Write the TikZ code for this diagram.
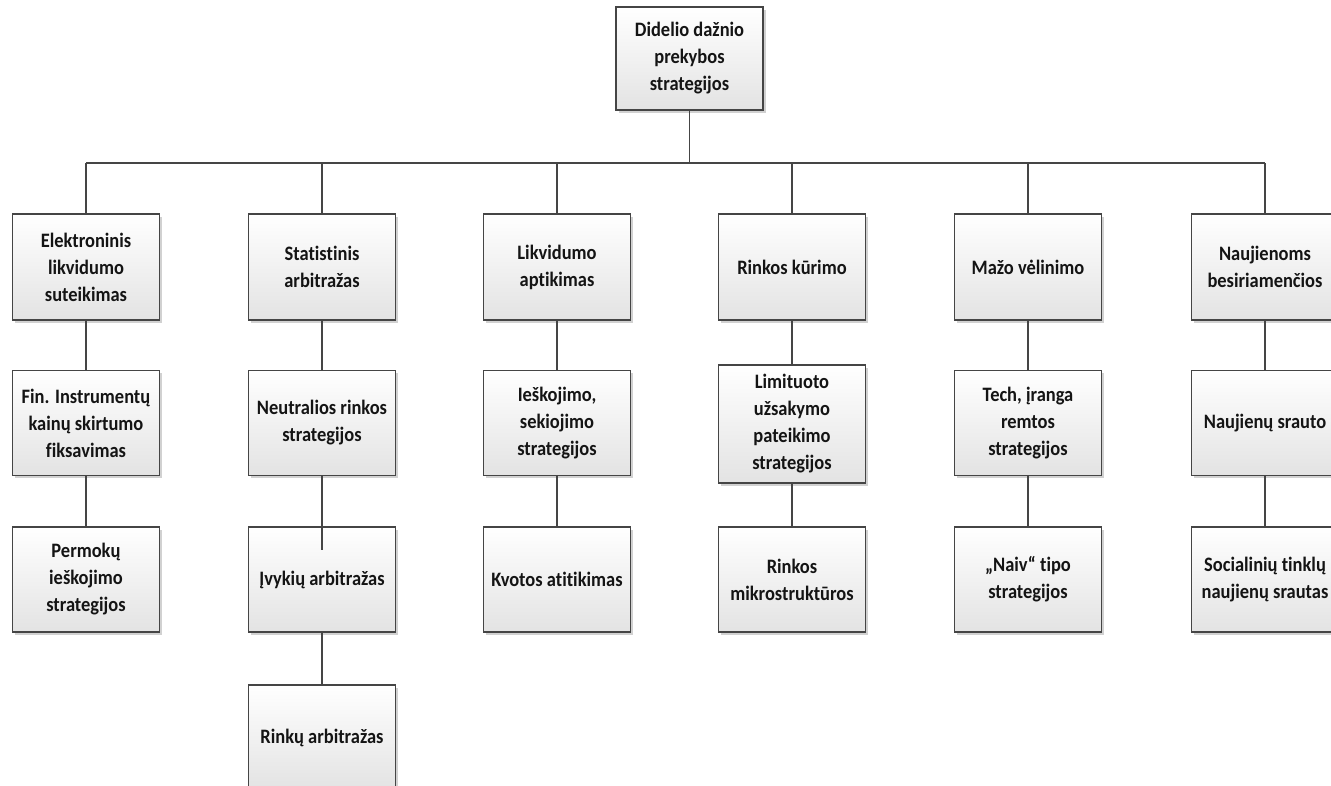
\documentclass[tikz,border=0pt]{standalone}
\usepackage{fontspec}
\setmainfont{Carlito}[Ligatures=NoCommon, FakeStretch=0.9]
\usetikzlibrary{shadows}
\definecolor{edgecol}{HTML}{454545}
\begin{document}
\begin{tikzpicture}[x=1pt,y=-1pt,
  box/.style={draw=edgecol, line width=1.3pt, top color=white, bottom color=black!11,
    drop shadow={shadow xshift=2.5pt, shadow yshift=-2.5pt, fill=black, opacity=0.18},
    minimum width=147pt, minimum height=105pt, align=center, inner sep=2pt,
    font=\bfseries\fontsize{20.5}{27}\selectfont, text=black!92},
  link/.style={draw=edgecol, line width=1.3pt}]
\useasboundingbox (0,0) rectangle (1331,785);
\clip (0,0) rectangle (1331,785);
\fill[white] (0,0) rectangle (1331,785);
% root
\node[box, minimum height=103pt] (root) at (689.5,58.5) {Didelio dažnio\\prekybos\\strategijos};
% level 1
\node[box, minimum height=106pt] (a1) at (86,267) {Elektroninis\\likvidumo\\suteikimas};
\node[box, minimum height=106pt] (b1) at (322,267) {Statistinis\\arbitražas};
\node[box, minimum height=106pt] (c1) at (557,267) {Likvidumo\\aptikimas};
\node[box, minimum height=106pt] (d1) at (792,267) {Rinkos kūrimo};
\node[box, minimum height=106pt] (e1) at (1028,267) {Mažo vėlinimo};
\node[box, minimum height=106pt] (f1) at (1265,267) {Naujienoms\\besiriamenčios};
% level 2
\node[box] (a2) at (86,423) {Fin. Instrumentų\\kainų skirtumo\\fiksavimas};
\node[box] (b2) at (322,423) {Neutralios rinkos\\strategijos};
\node[box] (c2) at (557,423) {Ieškojimo,\\sekiojimo\\strategijos};
\node[box, minimum height=118pt] (d2) at (792,424) {Limituoto\\užsakymo\\pateikimo\\strategijos};
\node[box] (e2) at (1028,423) {Tech, įranga\\remtos\\strategijos};
\node[box] (f2) at (1265,423) {Naujienų srauto};
% level 3
\node[box] (a3) at (86,579.5) {Permokų\\ieškojimo\\strategijos};
\node[box] (b3) at (322,579.5) {Įvykių arbitražas};
\node[box] (c3) at (557,579.5) {Kvotos atitikimas};
\node[box] (d3) at (792,579.5) {Rinkos\\mikrostruktūros};
\node[box] (e3) at (1028,579.5) {„Naiv“ tipo\\strategijos};
\node[box] (f3) at (1265,579.5) {Socialinių tinklų\\naujienų srautas};
% level 4
\node[box] (b4) at (322,737.5) {Rinkų arbitražas};
% connectors
\coordinate (bus) at (0,163);
\coordinate (b3in) at (322,550);
\draw[link] (root.south) -- (root.south |- bus);
\draw[link] (a1.north |- bus) -- (f1.north |- bus);
\foreach \n in {a1,b1,c1,d1,e1,f1}{\draw[link] (\n.north) -- (\n.north |- bus);}
\draw[link] (a1.south) -- (a2.north);
\draw[link] (b1.south) -- (b2.north);
\draw[link] (c1.south) -- (c2.north);
\draw[link] (d1.south) -- (d2.north);
\draw[link] (e1.south) -- (e2.north);
\draw[link] (f1.south) -- (f2.north);
\draw[link] (a2.south) -- (a3.north);
\draw[link] (b2.south) -- (b3in);
\draw[link] (c2.south) -- (c3.north);
\draw[link] (d2.south) -- (d3.north);
\draw[link] (e2.south) -- (e3.north);
\draw[link] (f2.south) -- (f3.north);
\draw[link] (b3.south) -- (b4.north);
\end{tikzpicture}
\end{document}
